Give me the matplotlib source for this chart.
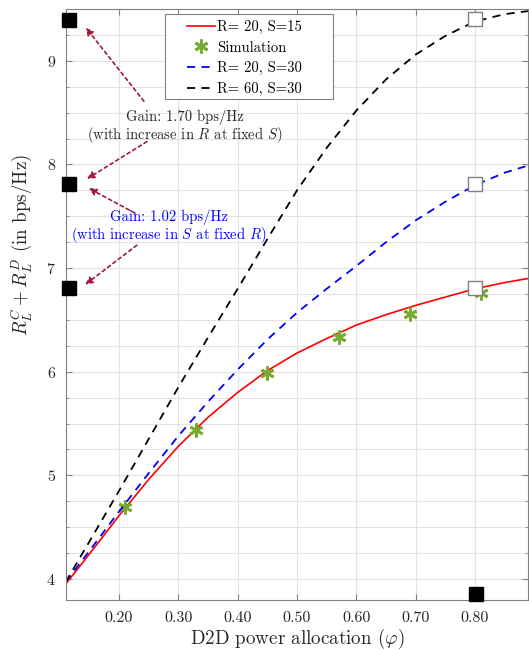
import matplotlib
matplotlib.use("Agg")
import matplotlib.pyplot as plt
from matplotlib.patches import Rectangle
from matplotlib.ticker import MultipleLocator, FormatStrFormatter

plt.rcParams['font.family'] = 'serif'
plt.rcParams['font.serif'] = ['cmr10', 'DejaVu Serif']
plt.rcParams['mathtext.fontset'] = 'cm'
plt.rcParams['axes.formatter.use_mathtext'] = True

fontsize = 11.5

# D2D power allocation values and sum rates
phi = [0.11, 0.15, 0.20, 0.25, 0.30, 0.35, 0.40, 0.45, 0.50, 0.55,
       0.60, 0.65, 0.70, 0.75, 0.80, 0.85, 0.89]
rate_r20_s15 = [3.95, 4.24, 4.61, 4.96, 5.28, 5.56, 5.80, 6.01, 6.18, 6.32,
                6.45, 6.55, 6.64, 6.72, 6.80, 6.86, 6.90]
rate_r20_s30 = [3.97, 4.27, 4.65, 5.02, 5.38, 5.71, 6.02, 6.31, 6.57, 6.80,
                7.02, 7.25, 7.46, 7.64, 7.80, 7.92, 7.99]
rate_r60_s30 = [3.97, 4.36, 4.85, 5.35, 5.85, 6.33, 6.80, 7.28, 7.75, 8.16,
                8.52, 8.82, 9.06, 9.24, 9.38, 9.45, 9.48]

sim_phi = [0.21, 0.33, 0.45, 0.57, 0.69, 0.81]
sim_rate = [4.69, 5.44, 5.99, 6.33, 6.56, 6.76]

# reference markers
open_sq_phi = [0.80, 0.80, 0.80]
open_sq_rate = [9.40, 7.81, 6.81]
filled_sq_phi = [0.115, 0.115, 0.115, 0.802]
filled_sq_rate = [9.39, 7.81, 6.81, 3.855]

# annotation arrows (tail -> tip)
arrow_tail = [(0.242, 8.61), (0.247, 8.22), (0.227, 7.53), (0.230, 7.22)]
arrow_tip = [(0.144, 9.32), (0.146, 7.86), (0.149, 7.77), (0.143, 6.84)]

gain_r_text = "Gain: 1.70 bps/Hz\n(with increase in $R$ at fixed $S$)"
gain_s_text = "Gain: 1.02 bps/Hz\n(with increase in $S$ at fixed $R$)"

fig = plt.figure(figsize=(5.29, 6.5), dpi=100)
ax = fig.add_axes([0.124, 0.0774, 0.8749, 0.9088])

ax.plot(phi, rate_r20_s15, color='#ff0000', lw=1.2, label='R= 20, S=15')
ax.plot(sim_phi, sim_rate, ls='none', marker=(6, 2, 0), ms=10, mew=2.0,
        color='#77ac30', label='Simulation')
ax.plot(phi, rate_r20_s30, color='#0000ff', lw=1.3, dashes=(4.5, 3.5), label='R= 20, S=30')
ax.plot(phi, rate_r60_s30, color='black', lw=1.3, dashes=(4.5, 3.5), label='R= 60, S=30')

ax.plot(open_sq_phi, open_sq_rate, ls='none', marker='s', ms=10, mfc='white',
        mec='#808080', mew=1.0, zorder=5, clip_on=False)
ax.plot(filled_sq_phi, filled_sq_rate, ls='none', marker='s', ms=10, mfc='black',
        mec='black', zorder=5, clip_on=False)

arrow_color = '#9e1b3a'
for tail, tip in zip(arrow_tail, arrow_tip):
    ax.annotate('', xy=tip, xytext=tail,
                arrowprops=dict(arrowstyle='-|>', color=arrow_color, lw=1.2,
                                linestyle=(0, (2, 2)), mutation_scale=11,
                                shrinkA=0, shrinkB=0))

ax.text(0.311, 8.36, gain_r_text, ha='center', va='center', fontsize=10.5,
        color='#262626', linespacing=1.0)
ax.text(0.284, 7.39, gain_s_text, ha='center', va='center', fontsize=10.5,
        color='#0000ff', linespacing=1.0)

ax.set_xlim(0.11, 0.89)
ax.set_ylim(3.8, 9.5)
ax.xaxis.set_major_locator(MultipleLocator(0.1))
ax.xaxis.set_major_formatter(FormatStrFormatter('%.2f'))
ax.yaxis.set_major_locator(MultipleLocator(1))
ax.yaxis.set_minor_locator(MultipleLocator(0.25))
ax.grid(True, which='major', color='#e3e3e3', lw=0.8)
ax.grid(True, which='minor', axis='y', color='#e3e3e3', lw=0.8)
ax.set_axisbelow(True)
ax.tick_params(which='both', direction='in', top=True, right=True,
               colors='#808080', labelcolor='#262626', labelsize=fontsize)
ax.tick_params(which='major', length=4, pad=7)
ax.tick_params(axis='x', which='major', pad=8)
ax.tick_params(which='minor', length=2)
for sp in ax.spines.values():
    sp.set_color('#808080')

ax.set_xlabel(r'D2D power allocation ($\varphi$)', fontsize=13.7, color='#262626')
ax.set_ylabel(r'$R_L^C + R_L^D$ (in bps/Hz)', fontsize=13.7, color='#262626')
ax.yaxis.set_label_coords(-0.068, 0.60)
ax.xaxis.set_label_coords(0.5, -0.046)

# legend: wide white box drawn behind a frameless legend
box = Rectangle((0.312, 0.8477), 0.3176, 0.1308, transform=fig.transFigure,
                facecolor='white', edgecolor='#808080', lw=0.8, zorder=6)
ax.add_artist(box)
box.set_clip_on(False)
leg = ax.legend(loc='upper left', bbox_to_anchor=(0.262, 0.981), borderaxespad=0,
                fontsize=10.5, frameon=False, handlelength=1.9, handletextpad=0.2,
                labelspacing=0.45, borderpad=0)
leg.set_zorder(7)

fig.savefig('out.png', dpi=100)
